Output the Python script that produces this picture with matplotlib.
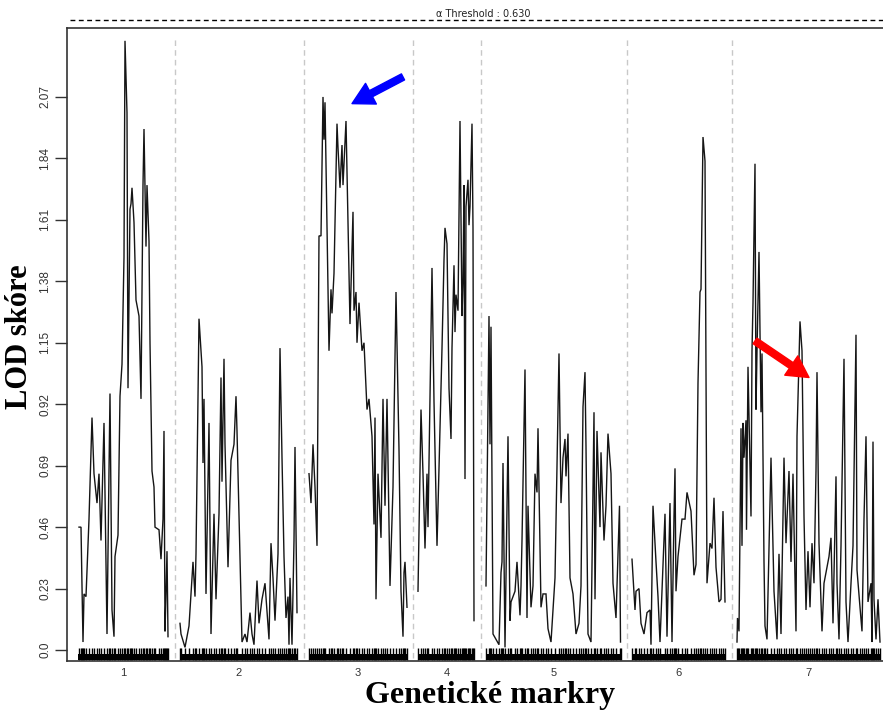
import numpy as np
import matplotlib
matplotlib.use("Agg")
import matplotlib.pyplot as plt

# LOD profile per chromosome: (position within chromosome in cM, LOD)
chr1 = [(1,0.46),(3,0.46),(4,0.24),(5,0.03),(6,0.21),(8,0.20),(11,0.49),(14,0.87),(16,0.66),(19,0.55),
        (21,0.66),(23,0.41),(26,0.85),(29,0.06),(31,0.67),(32,0.96),(34,0.15),(36,0.05),(37,0.35),(40,0.43),
        (42,0.95),(44,1.07),(46,1.47),(47,2.28),(49,2.01),(50,0.98),(52,1.65),(53,1.67),(54,1.73),(56,1.60),
        (58,1.31),(61,1.25),(63,0.94),(65,1.74),(66,1.95),(68,1.51),(69,1.74),(71,1.53),(72,1.15),(74,0.67),
        (76,0.61),(77,0.46),(81,0.45),(83,0.34),(85,0.49),(86,0.82),(87,0.07),(88,0.21),(89,0.37),(90,0.05)]
chr2 = [(0,0.10),(1,0.06),(5,0.01),(9,0.09),(13,0.33),(15,0.20),(16,0.36),(19,1.24),(22,1.06),(23,0.70),
        (24,0.94),(26,0.21),(29,0.85),(31,0.06),(34,0.51),(36,0.19),(39,0.51),(41,1.02),(42,0.63),(44,1.09),
        (45,0.77),(48,0.31),(51,0.71),(54,0.77),(56,0.95),(57,0.82),(62,0.03),(65,0.06),(67,0.03),(70,0.14),
        (72,0.06),(74,0.02),(77,0.26),(79,0.10),(82,0.19),(85,0.25),(89,0.04),(91,0.40),(93,0.27),(95,0.11),
        (98,0.36),(100,1.13),(102,0.72),(104,0.35),(106,0.12),(108,0.20),(109,0.02),(110,0.27),(112,0.02),
        (114,0.41),(115,0.76),(117,0.14)]
chr3 = [(0,0.66),(2,0.55),(4,0.77),(6,0.61),(8,0.39),(10,1.55),(12,1.55),(14,2.07),(15,1.91),(16,2.05),
        (20,1.12),(22,1.35),(23,1.26),(25,1.41),(28,1.97),(29,1.88),(31,1.73),(33,1.89),(34,1.74),(37,1.98),
        (41,1.22),(44,1.64),(45,1.27),(47,1.34),(48,1.15),(50,1.30),(53,1.12),(55,1.15),(58,0.90),(60,0.94),
        (63,0.80),(65,0.47),(66,0.87),(67,0.19),(69,0.66),(72,0.42),(74,0.94),(76,0.54),(78,0.94),(81,0.24),
        (84,0.61),(87,1.34),(90,0.75),(92,0.22),(94,0.05),(95,0.29),(96,0.33),(98,0.16)]
chr4 = [(0,0.22),(3,0.90),(5,0.66),(7,0.38),(9,0.66),(10,0.46),(14,1.43),(16,0.93),(19,0.39),(21,0.68),
        (24,1.13),(26,1.46),(27,1.58),(29,1.52),(31,0.98),(33,0.79),(34,1.13),(36,1.44),(37,1.19),(38,1.33),
        (40,1.27),(42,1.98),(44,1.25),(45,1.38),(46,1.74),(47,0.64),(48,1.66),(50,1.76),(51,1.59),(52,1.66),
        (54,1.97),(55,1.58),(56,0.11)]
chr5 = [(0,0.24),(3,1.25),(4,0.77),(5,1.21),(7,0.06),(10,0.04),(13,0.02),(15,0.29),(16,0.33),(17,0.70),
        (19,0.01),(22,0.80),(24,0.11),(25,0.18),(29,0.22),(31,0.33),(34,0.13),(35,0.24),(36,0.41),(39,1.05),
        (41,0.12),(42,0.54),(45,0.16),(47,0.24),(49,0.66),(51,0.59),(52,0.83),(55,0.16),(57,0.21),(60,0.21),
        (62,0.08),(65,0.03),(69,0.27),(73,1.11),(75,0.55),(77,0.72),(79,0.79),(80,0.65),(82,0.81),(84,0.27),
        (87,0.21),(90,0.06),(93,0.10),(95,0.24),(97,0.91),(99,1.04),(100,0.76),(102,0.06),(105,0.03),(108,0.89),
        (109,0.19),(111,0.82),(114,0.46),(115,0.74),(118,0.41),(120,0.54),(122,0.81),(125,0.66),(127,0.25),
        (130,0.12),(133.5,0.54),(134.5,0.03)]
chr6 = [(0,0.34),(3,0.15),(4,0.22),(7,0.23),(9,0.10),(12,0.06),(15,0.14),(18,0.15),(19,0.02),(21,0.54),
        (24,0.33),(26,0.20),(28,0.03),(33,0.51),(35,0.05),(38,0.55),(40,0.03),(42,0.50),(43,0.68),(44,0.22),
        (46,0.35),(50,0.49),(53,0.49),(55,0.59),(59,0.52),(62,0.28),(64,0.32),(66,1.00),(68,1.34),(69,1.35),
        (71,1.92),(73,1.83),(75,0.25),(78,0.40),(80,0.38),(82,0.57),(84,0.31),(87,0.18),(89,0.19),(91,0.52),
        (93,0.18)]
chr7 = [(0,0.03),(0.5,0.12),(2,0.07),(4,0.83),(5,0.39),(6,0.85),(7,0.72),(9,0.86),(9.5,0.45),(11,1.06),
        (14,0.50),(15,1.12),(16,1.30),(18,1.82),(19,0.90),(20,1.12),(22,1.49),(24,0.89),(25,1.11),(27,0.33),
        (28,0.09),(30,0.04),(34,0.72),(37,0.22),(40,0.04),(42,0.36),(44,0.06),(47,0.72),(49,0.40),(52,0.67),
        (54,0.33),(56,0.66),(59,0.07),(60,0.80),(63,1.23),(65,1.12),(67,0.50),(69,0.15),(71,0.37),(73,0.16),
        (75,0.40),(77,0.25),(79,0.67),(80,1.04),(82,0.40),(85,0.07),(87,0.25),(89,0.29),(92,0.35),(94,0.42),
        (96,0.10),(99,0.65),(100,0.25),(102,0.04),(104,0.39),(107,1.09),(109,0.18),(111,0.03),(114,0.25),
        (116,0.39),(119,1.18),(120,0.30),(123,0.16),(125,0.07),(127,0.49),(129,0.80),(131,0.18),(134,0.25),
        (135,0.03),(136,0.78),(137,0.19),(139,0.04),(141,0.19),(143,0.03)]

chroms = [chr1, chr2, chr3, chr4, chr5, chr6, chr7]
chr_names = ["1", "2", "3", "4", "5", "6", "7"]
chr_len = [91, 118, 98, 57, 135, 94, 143]
gap = 11
yticks = [0.0, 0.23, 0.46, 0.69, 0.92, 1.15, 1.38, 1.61, 1.84, 2.07]
threshold = 0.630

fig = plt.figure(figsize=(8.83, 7.11), dpi=100)
ax = fig.add_axes([67/883, 50/711, 840/883, 633/711])

offsets = np.concatenate([[0], np.cumsum(np.array(chr_len) + gap)[:-1]])

for i, c in enumerate(chroms):
    d = np.array(c)
    x = d[:, 0] + offsets[i]
    ax.plot(x, d[:, 1], color="#151515", lw=1.0, solid_joinstyle="miter")
    # marker rug
    ax.vlines(x, -0.037, 0.008, color="black", lw=1.0)
    ax.fill_between([offsets[i], offsets[i] + chr_len[i]], -0.037, -0.016, color="black", lw=0)

# chromosome separators
for i in range(1, len(chroms)):
    xs = offsets[i] - gap / 2
    ax.plot([xs, xs], [-0.03, 2.285], color="#c8c8c8", lw=1.0, ls=(0, (4, 3)))

ax.set_xlim(-11, 829)
ax.set_ylim(-0.041, 2.328)

ax.set_yticks(yticks)
ax.set_yticklabels([str(v) for v in yticks], rotation=90, va="center",
                   fontsize=8.5, color="#333333", family="Liberation Sans")
ax.tick_params(axis="y", length=8.5, width=1, color="#333333", pad=3)
ax.set_xticks(offsets + np.array(chr_len) / 2)
ax.set_xticklabels(chr_names, fontsize=8, color="#333333", family="Liberation Sans")
ax.tick_params(axis="x", length=0, pad=5)

for s in ["left", "top", "bottom"]:
    ax.spines[s].set_color("#333333")
    ax.spines[s].set_linewidth(1.2)
ax.spines["right"].set_visible(False)

# threshold line above the panel
ax.plot([-8, 829], [2.358, 2.358], color="black", lw=1.0, ls=(0, (3.5, 2.5)), clip_on=False)
ax.text(405, 2.36, "α Threshold : %.3f" % threshold, ha="center", va="bottom",
        fontsize=7, color="#222222", family="Liberation Sans Narrow")

# arrows
ax.annotate("", xy=(274, 2.045), xytext=(325, 2.145),
            arrowprops=dict(arrowstyle="simple,head_length=1.1,head_width=1.2,tail_width=0.35",
                            color="blue", mutation_scale=14, shrinkA=0, shrinkB=0))
ax.annotate("", xy=(731, 1.02), xytext=(677, 1.157),
            arrowprops=dict(arrowstyle="simple,head_length=1.1,head_width=1.2,tail_width=0.35",
                            color="red", mutation_scale=14, shrinkA=0, shrinkB=0))

fig.text(20/883, 1 - 337/711, "LOD skóre", rotation=90, ha="center", va="center",
         fontsize=22, fontweight="bold", family="Liberation Serif")
fig.text(490/883, 1 - 696/711, "Genetické markry", ha="center", va="center",
         fontsize=23, fontweight="bold", family="Liberation Serif")

fig.savefig("out.png", dpi=100)
